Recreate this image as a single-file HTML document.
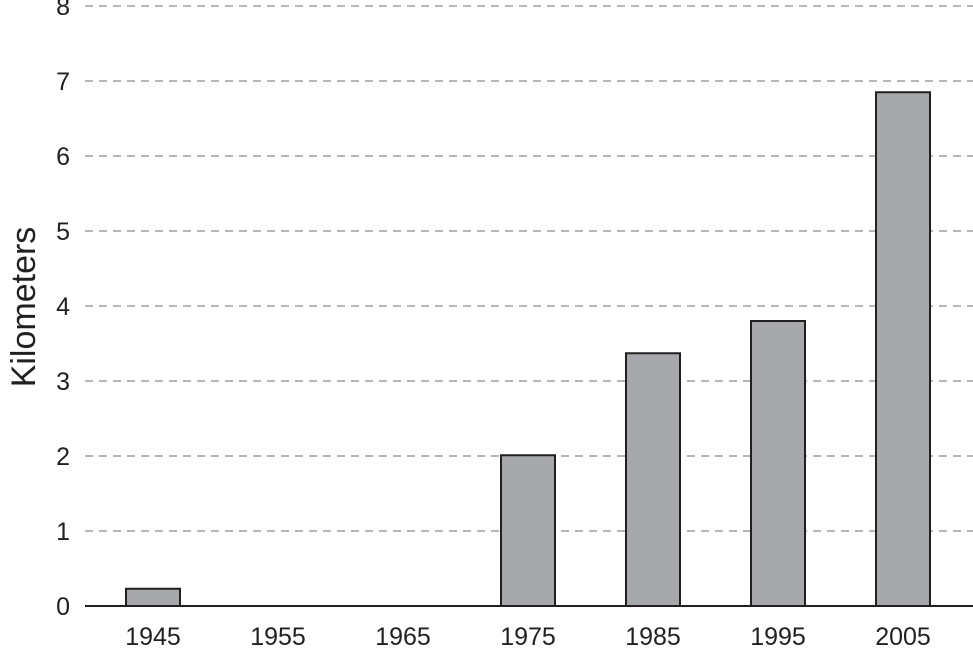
<!DOCTYPE html>
<html><head><meta charset="utf-8"><style>
html,body{margin:0;padding:0;background:#fff;}
svg{display:block;font-family:"Liberation Sans",sans-serif;}
</style></head><body>
<svg id="chart" width="973" height="649"></svg>
<script>
const categories = ["1945","1955","1965","1975","1985","1995","2005"];
const values = [0.23, 0, 0, 2.01, 3.37, 3.8, 6.85];
const yTicks = [0,1,2,3,4,5,6,7,8];
const NS = "http://www.w3.org/2000/svg";
const svg = document.getElementById("chart");
const y0 = 606, pxPerUnit = 75;
function yScale(v){ return y0 - v*pxPerUnit; }
function xScale(i){ return 153 + 125*i; }
function mk(tag, attrs){ const e=document.createElementNS(NS,tag); for(const k in attrs) e.setAttribute(k,attrs[k]); svg.appendChild(e); return e; }
yTicks.forEach(t=>{
  if(t>0){
    const g=mk("line",{x1:85,x2:973,y1:yScale(t),y2:yScale(t),stroke:"#8a8a8a","stroke-width":1.3,"stroke-dasharray":"8,6"});
    
    
  }
  const l=mk("text",{x:70,y:yScale(t)+9,"text-anchor":"end","font-size":25,fill:"#231f20"});
  l.textContent=t;
  
  
});
values.forEach((v,i)=>{
  if(v>0){
    const h=v*pxPerUnit;
    const b=mk("rect",{x:xScale(i)-27,y:yScale(v),width:54,height:h,fill:"#a7a8ab",stroke:"#231f20","stroke-width":2});
    
    
  }
  const t=mk("text",{x:xScale(i),y:645,"text-anchor":"middle","font-size":25,fill:"#231f20"});
  t.textContent=categories[i];
  
  
});
const ax=mk("line",{x1:85,x2:973,y1:y0,y2:y0,stroke:"#231f20","stroke-width":2});


const yt=mk("text",{x:0,y:0,transform:"translate(35,307) rotate(-90)","text-anchor":"middle","font-size":34,fill:"#231f20"});
yt.textContent="Kilometers";


</script>
</body></html>
